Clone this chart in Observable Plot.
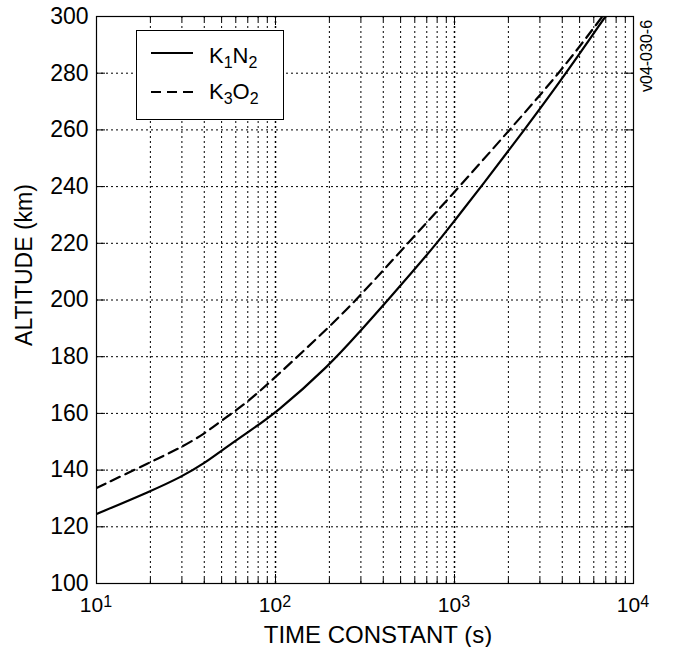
<!DOCTYPE html>
<html><head><meta charset="utf-8">
<script src="https://cdn.jsdelivr.net/npm/d3@7"></script>
<script src="https://cdn.jsdelivr.net/npm/@observablehq/plot@0.6"></script>
<style>body{margin:0;background:#fff} svg{display:block}</style>
</head><body><div id="chart"></div>
<script>
// ---- data ----
const k1n2Time = [10, 20, 30, 40, 50, 70, 100, 200, 300, 400, 800, 1000, 1410, 2460, 4210, 6970];
const k1n2Alt  = [124.5, 132.5, 137.7, 142.4, 146.9, 153.4, 160, 176.9, 189.3, 198.1, 220, 228, 240, 260, 280, 300];
const k3o2Time = [10, 20, 30, 40, 50, 70, 100, 200, 300, 548, 1067, 2030, 3860, 6700];
const k3o2Alt  = [133.7, 142.8, 148.1, 152.8, 157.5, 164, 172.8, 190.5, 201.7, 220, 240, 260, 280, 300];
const yTicks = [100, 120, 140, 160, 180, 200, 220, 240, 260, 280, 300];
const xDecades = [10, 100, 1000, 10000];
const xExponents = ["1", "2", "3", "4"];
const minorMultipliers = [2, 3, 4, 5, 6, 7, 8, 9];
const seriesNames = [["K", "1", "N", "2"], ["K", "3", "O", "2"]];
const xLabel = "TIME CONSTANT (s)";
const yLabel = "ALTITUDE (km)";
const sideNote = "v04-030-6";

const k1n2 = k1n2Time.map((t, i) => ({t, alt: k1n2Alt[i]}));
const k3o2 = k3o2Time.map((t, i) => ({t, alt: k3o2Alt[i]}));
const xMinor = xDecades.slice(0, -1).flatMap(d => minorMultipliers.map(m => d * m));

const W = 675, H = 647, mL = 96, mR = 42, mT = 16, mB = 64;
const fw = W - mL - mR, fh = H - mT - mB;
const FONT = "'Liberation Sans', Arial, Helvetica, sans-serif";
const GRID = "2,3";

const plot = Plot.plot({
  width: W, height: H,
  marginLeft: mL, marginRight: mR, marginTop: mT, marginBottom: mB,
  style: {fontFamily: FONT, background: "#fff", color: "black"},
  x: {type: "log", domain: [10, 10000], axis: null},
  y: {domain: [100, 300], axis: null},
  marks: [
    Plot.ruleX(xMinor, {stroke: "black", strokeWidth: 1, strokeDasharray: GRID}),
    Plot.ruleX(xDecades.slice(1, -1), {stroke: "black", strokeWidth: 1.5, strokeDasharray: GRID}),
    Plot.ruleY(yTicks.slice(1, -1), {stroke: "black", strokeWidth: 1, strokeDasharray: GRID}),
    // inward ticks
    Plot.tickX(xMinor, {stroke: "black", insetTop: fh - 5}),
    Plot.tickX(xMinor, {stroke: "black", insetBottom: fh - 5}),
    Plot.tickX(xDecades, {stroke: "black", insetTop: fh - 9}),
    Plot.tickX(xDecades, {stroke: "black", insetBottom: fh - 9}),
    Plot.tickY(yTicks, {stroke: "black", insetRight: fw - 9}),
    Plot.tickY(yTicks, {stroke: "black", insetLeft: fw - 9}),
    Plot.frame({stroke: "black", strokeWidth: 1.2}),
    Plot.text(yTicks, {y: d => d, text: d => String(d), frameAnchor: "left", textAnchor: "end", dx: -8, fontSize: 23, fill: "black"}),
    Plot.line(k1n2, {x: "t", y: "alt", curve: "basis", stroke: "black", strokeWidth: 2.2, clip: true}),
    Plot.line(k3o2, {x: "t", y: "alt", curve: "basis", stroke: "black", strokeWidth: 2.2, strokeDasharray: "10,6", clip: true})
  ]
});

document.getElementById("chart").appendChild(plot);
const svg = d3.select(plot);
const xs = plot.scale("x");

// x tick labels: 10^n
xDecades.forEach((d, i) => {
  const t = svg.append("text")
    .attr("x", xs.apply(d)).attr("y", 612)
    .attr("text-anchor", "middle")
    .attr("font-family", FONT).attr("font-size", 21).attr("fill", "black");
  t.append("tspan").text("10");
  t.append("tspan").attr("font-size", 16).attr("dy", -5).text(xExponents[i]);
});

// axis labels
svg.append("text").attr("x", 378).attr("y", 643).attr("text-anchor", "middle")
  .attr("font-family", FONT).attr("font-size", 24).attr("fill", "black").text(xLabel);
svg.append("text").attr("transform", "translate(32,265) rotate(-90)").attr("text-anchor", "middle")
  .attr("font-family", FONT).attr("font-size", 23).attr("fill", "black").text(yLabel);
svg.append("text").attr("transform", "translate(652,56) rotate(-90)").attr("text-anchor", "middle")
  .attr("font-family", FONT).attr("font-size", 16).attr("fill", "black").text(sideNote);

// legend
const lg = svg.append("g");
lg.append("rect").attr("x", 136.5).attr("y", 30.5).attr("width", 147).attr("height", 89)
  .attr("fill", "white").attr("stroke", "black").attr("stroke-width", 1);
const rowsY = [53, 92], textY = [63, 99], dashes = [null, "10,6"];
seriesNames.forEach((parts, i) => {
  lg.append("line").attr("x1", 151).attr("x2", 193).attr("y1", rowsY[i]).attr("y2", rowsY[i])
    .attr("stroke", "black").attr("stroke-width", 2.2).attr("stroke-dasharray", dashes[i]);
  const t = lg.append("text").attr("x", 209).attr("y", textY[i]).attr("text-anchor", "start")
    .attr("font-family", FONT).attr("font-size", 22).attr("fill", "black");
  t.append("tspan").text(parts[0]);
  t.append("tspan").attr("font-size", 16).attr("dy", 5).text(parts[1]);
  t.append("tspan").attr("dy", -5).text(parts[2]);
  t.append("tspan").attr("font-size", 16).attr("dy", 5).text(parts[3]);
});
</script>
</body></html>
